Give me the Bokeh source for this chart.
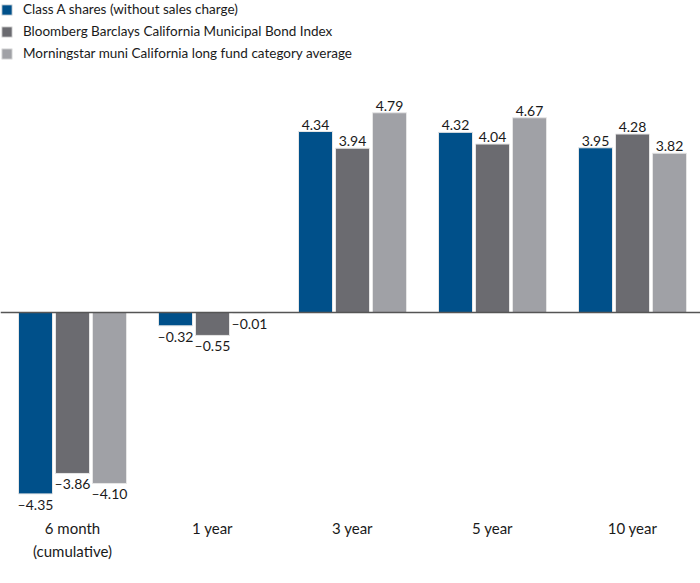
from bokeh.plotting import figure
from bokeh.models import ColumnDataSource, Range1d, Span, Legend, LegendItem
from bokeh.transform import dodge
from bokeh.core.properties import value
from bokeh.embed import file_html
from bokeh.resources import INLINE

categories = ["6 month\n(cumulative)", "1 year", "3 year", "5 year", "10 year"]
series_names = [
    "Class A shares (without sales charge)",
    "Bloomberg Barclays California Municipal Bond Index",
    "Morningstar muni California long fund category average",
]
class_a = [-4.35, -0.32, 4.34, 4.32, 3.95]
bloomberg = [-3.86, -0.55, 3.94, 4.04, 4.28]
morningstar = [-4.10, -0.01, 4.79, 4.67, 3.82]
colors = ["#00508a", "#6b6b70", "#a0a1a6"]

FONT = "Lato"
W, H = 700, 583
px_per_unit_x = 140.0
px_per_unit_y = 41.7
zero_px = 312
first_center_px = 72

p = figure(width=W, height=H, output_backend="svg", toolbar_location=None,
           min_border=0, outline_line_color=None)
p.x_range = Range1d(-first_center_px / px_per_unit_x, (W - first_center_px) / px_per_unit_x)
p.y_range = Range1d(-(H - zero_px) / px_per_unit_y, zero_px / px_per_unit_y)
p.axis.visible = False
p.grid.visible = False
p.background_fill_color = "white"

idx = list(range(len(categories)))
bar_w = 34 / px_per_unit_x
off = 37 / px_per_unit_x

def fmt(v):
    s = f"{abs(v):.2f}"
    return ("\u2013" + s) if v < 0 else s

legend_items = []
for k, (name, vals, col) in enumerate(zip(series_names, [class_a, bloomberg, morningstar], colors)):
    d = (k - 1) * off
    src = ColumnDataSource(dict(x=idx, top=vals))
    r = p.vbar(x=dodge("x", d), top="top", bottom=0, width=bar_w, source=src,
               fill_color=col, line_color="#e6e6e6", line_width=1)
    legend_items.append(LegendItem(label=name, renderers=[r]))
    pos = ColumnDataSource(dict(x=[i for i, v in zip(idx, vals) if v >= 0],
                                y=[v for v in vals if v >= 0],
                                lab=[fmt(v) for v in vals if v >= 0]))
    neg = ColumnDataSource(dict(x=[i for i, v in zip(idx, vals) if v < 0],
                                y=[v for v in vals if v < 0],
                                lab=[fmt(v) for v in vals if v < 0]))
    p.text(x=dodge("x", d), y="y", text="lab", source=pos, text_align="center",
           text_baseline="bottom", y_offset=-2, text_font=value(FONT),
           text_font_size="14px", text_color="#1a1a1a")
    p.text(x=dodge("x", d), y="y", text="lab", source=neg, text_align="center",
           text_baseline="top", y_offset=2, text_font=value(FONT),
           text_font_size="14px", text_color="#1a1a1a")

p.add_layout(Span(location=0, dimension="width", line_color="#555555", line_width=1.5))

cat_src = ColumnDataSource(dict(x=idx, y=[-(518 - zero_px) / px_per_unit_y] * len(idx), lab=categories))
p.text(x="x", y="y", text="lab", source=cat_src, text_align="center", text_baseline="top",
       text_font=value(FONT), text_font_size="15px", text_color="#1a1a1a", text_line_height=1.3)

legend = Legend(items=legend_items, location="top_left", margin=0, padding=1,
                glyph_width=13, glyph_height=13, label_height=18, spacing=4,
                label_standoff=10, border_line_color=None, background_fill_alpha=0,
                label_text_font=FONT, label_text_font_size="13.5px", label_text_color="#1a1a1a")
p.add_layout(legend)

open("out.html", "w").write(file_html(p, INLINE))
